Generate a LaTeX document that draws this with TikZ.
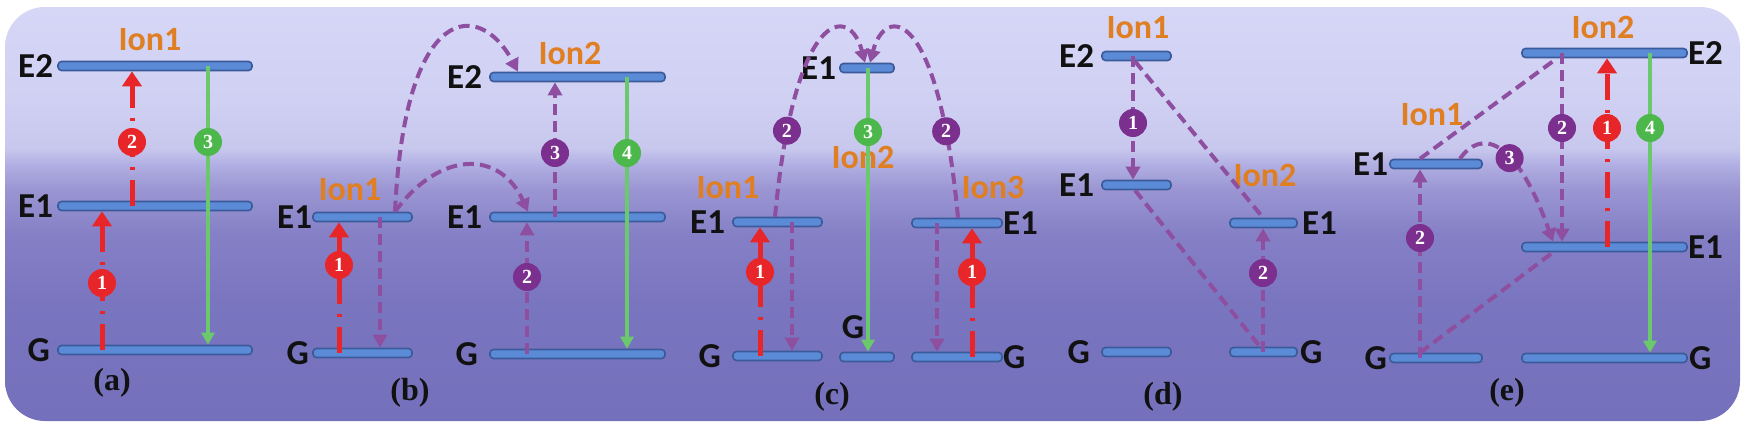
\documentclass[tikz,border=0pt]{standalone}
\usepackage{fontspec}
\setmainfont{Carlito}
\newfontfamily\pserif{Liberation Serif}
\usetikzlibrary{arrows.meta,positioning}
\definecolor{bgbot}{HTML}{7570BB}
\definecolor{bgb2}{HTML}{7A75BF}
\definecolor{bgdark}{HTML}{8580C6}
\definecolor{bgmid}{HTML}{9A95D2}
\definecolor{bgm2}{HTML}{B0AEE2}
\definecolor{bglight}{HTML}{C8C8EE}
\definecolor{bgl2}{HTML}{D0D0F3}
\definecolor{bgtop}{HTML}{D6D6F7}
\definecolor{barfill}{HTML}{5B8AD6}
\definecolor{barline}{HTML}{3B5A9A}
\definecolor{cred}{HTML}{E8262A}
\definecolor{cpurp}{HTML}{8E4FA0}
\definecolor{cpurpc}{HTML}{7B2F8E}
\definecolor{cgreen}{HTML}{6CC86C}
\definecolor{cgreenc}{HTML}{4CB84C}
\definecolor{ionorange}{HTML}{E07F22}
\definecolor{labblack}{HTML}{111111}
\pgfdeclareverticalshading{bgshade}{100bp}{color(0bp)=(bgbot); color(25bp)=(bgbot); color(39.6bp)=(bgb2); color(47.5bp)=(bgdark); color(52.9bp)=(bgmid); color(55.9bp)=(bgm2); color(58bp)=(bglight); color(63.8bp)=(bgl2); color(75bp)=(bgtop); color(100bp)=(bgtop)}
\begin{document}
\begin{tikzpicture}[x=1pt,y=-1pt,
 bar/.style={draw=barline, fill=barfill, line width=1.6pt, rounded corners=3.5pt, minimum height=9pt, inner sep=0pt},
 lab/.style={font=\fontsize{35}{35}\selectfont\bfseries, text=labblack, inner sep=0pt},
 ion/.style={font=\fontsize{34}{34}\selectfont\bfseries, text=ionorange, inner sep=0pt},
 panel/.style={font=\pserif\fontsize{32}{32}\selectfont\bfseries, text=labblack, inner sep=0pt},
 numc/.style={circle, inner sep=0pt, minimum size=28pt, text=white, font=\pserif\bfseries\fontsize{20}{20}\selectfont},
 rc/.style={numc, fill=cred},
 pc/.style={numc, fill=cpurpc},
 gc/.style={numc, fill=cgreenc},
 redarr/.style={draw=cred, line width=5pt, dash pattern=on 26pt off 10pt on 3pt off 10pt, -{Triangle[width=19pt,length=15pt]}},
 purarr/.style={draw=cpurp, line width=4pt, dash pattern=on 11pt off 6pt, -{Triangle[width=14pt,length=13pt]}},
 purline/.style={draw=cpurp, line width=4pt, dash pattern=on 11pt off 6pt},
 grarr/.style={draw=cgreen, line width=3.6pt, -{Triangle[width=13pt,length=12pt]}}
]
\useasboundingbox (0,0) rectangle (1750,431);
\fill[white] (0,0) rectangle (1750,431);
\shade[shading=bgshade, rounded corners=40pt] (5,7) rectangle (1740,421);

% ---------- bars
\node[bar, minimum width=194pt] (aE2) at (155,66) {};
\node[bar, minimum width=194pt] (aE1) at (155,206) {};
\node[bar, minimum width=194pt] (aG) at (155,350) {};
\node[bar, minimum width=99pt] (b1E1) at (362.5,217) {};
\node[bar, minimum width=99pt] (b1G) at (362.5,353) {};
\node[bar, minimum width=175pt] (b2E2) at (577.5,77) {};
\node[bar, minimum width=175pt] (b2E1) at (577.5,217) {};
\node[bar, minimum width=175pt] (b2G) at (577.5,354) {};
\node[bar, minimum width=89pt] (c1E1) at (777.5,222) {};
\node[bar, minimum width=89pt] (c1G) at (777.5,356) {};
\node[bar, minimum width=54pt] (c2E1) at (867,68) {};
\node[bar, minimum width=54pt] (c2G) at (867,357) {};
\node[bar, minimum width=90pt] (c3E1) at (957,223) {};
\node[bar, minimum width=90pt] (c3G) at (957,357) {};
\node[bar, minimum width=69pt] (d1E2) at (1136.5,56) {};
\node[bar, minimum width=69pt] (d1E1) at (1136.5,185) {};
\node[bar, minimum width=69pt] (d1G) at (1136.5,352) {};
\node[bar, minimum width=67pt] (d2E1) at (1263.5,223) {};
\node[bar, minimum width=67pt] (d2G) at (1263.5,352) {};
\node[bar, minimum width=92pt] (e1E1) at (1436,164) {};
\node[bar, minimum width=92pt] (e1G) at (1436,358) {};
\node[bar, minimum width=165pt] (e2E2) at (1604.5,53) {};
\node[bar, minimum width=165pt] (e2E1) at (1604.5,247) {};
\node[bar, minimum width=165pt] (e2G) at (1604.5,358) {};

% ---------- level labels
\node[lab, left=4pt of aE2] (laE2) {E2};
\node[lab, left=4pt of aE1] (laE1) {E1};
\node[lab, left=7pt of aG] (laG) {G};
\node[lab, left=0pt of b1E1] (lb1E1) {E1};
\node[lab, left=3pt of b1G] (lb1G) {G};
\node[lab, left=7pt of b2E2] (lb2E2) {E2};
\node[lab, left=7pt of b2E1] (lb2E1) {E1};
\node[lab, left=11pt of b2G] (lb2G) {G};
\node[lab, left=7pt of c1E1] (lc1E1) {E1};
\node[lab, left=11pt of c1G] (lc1G) {G};
\node[lab, left=3pt of c2E1] (lc2E1) {E1};
\node[lab] (lc2G) at (853,327) {G};
\node[lab, right=0pt of c3E1] (lc3E1) {E1};
\node[lab, right=0pt of c3G] (lc3G) {G};
\node[lab, left=7pt of d1E2] (ld1E2) {E2};
\node[lab, left=7pt of d1E1] (ld1E1) {E1};
\node[lab, left=11pt of d1G] (ld1G) {G};
\node[lab, right=4pt of d2E1] (ld2E1) {E1};
\node[lab, right=2pt of d2G] (ld2G) {G};
\node[lab, left=1pt of e1E1] (le1E1) {E1};
\node[lab, left=2pt of e1G] (le1G) {G};
\node[lab, right=0pt of e2E2] (le2E2) {E2};
\node[lab, right=0pt of e2E1] (le2E1) {E1};
\node[lab, right=1pt of e2G] (le2G) {G};

% ---------- ion labels
\node[ion] (ia1) at (150,40) {Ion1};
\node[ion] (ib1) at (350,190) {Ion1};
\node[ion] (ib2) at (570,53) {Ion2};
\node[ion] (ic1) at (728,188) {Ion1};
\node[ion] (ic2) at (863,157) {Ion2};
\node[ion] (ic3) at (993,187) {Ion3};
\node[ion] (id1) at (1138,28) {Ion1};
\node[ion] (id2) at (1265,175) {Ion2};
\node[ion] (ie1) at (1432,115) {Ion1};
\node[ion] (ie2) at (1603,27) {Ion2};

% ---------- panel labels
\node[panel] (pa) at (112,383) {(a)};
\node[panel] (pb) at (410,393) {(b)};
\node[panel] (pc) at (832,397) {(c)};
\node[panel] (pd) at (1163,397) {(d)};
\node[panel] (pe) at (1507,393) {(e)};

% ---------- (a)
\draw[redarr] (aG -| 102,0) -- (aE1.south -| 102,0);
\node[rc] (ca1) at (102,283) {1};
\draw[redarr] (aE1 -| 132,0) -- (aE2.south -| 132,0);
\node[rc] (ca2) at (132,142) {2};
\draw[grarr] (aE2 -| 208,0) -- (aG.north -| 208,0);
\node[gc] (ca3) at (208,142) {3};

% ---------- (b)
\draw[redarr] (b1G -| 339,0) -- (b1E1.south -| 339,0);
\node[rc] (cb1) at (339,265) {1};
\draw[purarr] (b1E1 -| 380,0) -- (b1G.north -| 380,0);
\draw[purarr] (b2G -| 527,0) -- (b2E1.south -| 527,0);
\node[pc] (cb2) at (527,277) {2};
\draw[purarr] (b2E1 -| 555,0) -- (b2E2.south -| 555,0);
\node[pc] (cb3) at (555,153) {3};
\draw[grarr] (b2E2 -| 627,0) -- (b2G.north -| 627,0);
\node[gc] (cb4) at (627,153) {4};
\draw[purarr] (b1E1.north -| 395,0) .. controls (405,0) and (480,0) .. (b2E2.north -| 518,0);
\draw[purarr] (b1E1.north -| 395,0) .. controls (440,150) and (500,150) .. (b2E1.north -| 528,0);

% ---------- (c)
\draw[redarr] (c1G -| 760,0) -- (c1E1.south -| 760,0);
\node[rc] (cc1) at (760,272) {1};
\draw[purarr] (c1E1 -| 792,0) -- (c1G.north -| 792,0);
\draw[grarr] (c2E1 -| 868,0) -- (c2G.north -| 868,0);
\node[gc] (cc3) at (868,132) {3};
\draw[purarr] (c3E1 -| 937,0) -- (c3G.north -| 937,0);
\draw[redarr] (c3G -| 972,0) -- (c3E1.south -| 972,0);
\node[rc] (cc1b) at (972,272) {1};
\draw[purarr] (c1E1.north -| 775,0) .. controls (795,5) and (850,5) .. (c2E1.north -| 865,0) node[pc, pos=0.16] (cc2) {2};
\draw[purarr] (c3E1.north -| 958,0) .. controls (938,5) and (885,5) .. (c2E1.north -| 870,0) node[pc, pos=0.16] (cc2b) {2};

% ---------- (d)
\draw[purarr] (d1E2 -| 1133,0) -- (d1E1.north -| 1133,0);
\node[pc] (cd1) at (1133,123) {1};
\draw[purarr] (d2G -| 1263,0) -- (d2E1.south -| 1263,0);
\node[pc] (cd2) at (1263,273) {2};
\draw[purline] (d1E2.south -| 1135,0) -- (d2E1.north -| 1263,0);
\draw[purline] (d1E1.south -| 1135,0) -- (d2G.north -| 1260,0);

% ---------- (e)
\draw[purarr] (e1G -| 1420,0) -- (e1E1.south -| 1420,0);
\node[pc] (ce2a) at (1420,238) {2};
\draw[purarr] (e2E2 -| 1562,0) -- (e2E1.north -| 1562,0);
\node[pc] (ce2b) at (1562,128) {2};
\draw[redarr] (e2E1 -| 1607,0) -- (e2E2.south -| 1607,0);
\node[rc] (ce1) at (1607,128) {1};
\draw[grarr] (e2E2 -| 1650,0) -- (e2G.north -| 1650,0);
\node[gc] (ce4) at (1650,128) {4};
\draw[purarr] (e1E1.north -| 1460,0) .. controls (1480,130) and (1515,135) .. (e2E1.north -| 1553,0) node[pc, pos=0.6] (ce3) {3};
\draw[purline] (e1E1.north -| 1420,0) -- (e2E2.south -| 1557,0);
\draw[purline] (e1G.north -| 1420,0) -- (e2E1.south -| 1553,0);
\end{tikzpicture}
\end{document}
